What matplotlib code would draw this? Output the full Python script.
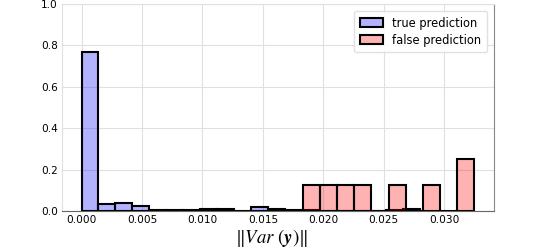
import numpy as np
import matplotlib
matplotlib.use("Agg")
import matplotlib.pyplot as plt

plt.rcParams["mathtext.fontset"] = "stix"

# histogram of ||Var(y)|| for true / false predictions (normalised counts)
true_range = (0.0, 0.028)
true_heights = [0.77, 0.033, 0.037, 0.025, 0.007, 0.007, 0.003, 0.012, 0.012, 0.0,
                0.018, 0.012, 0.003, 0.003, 0.0, 0.0, 0.0, 0.002, 0.005, 0.010]
false_range = (0.0183, 0.0325)
false_heights = [0.125, 0.125, 0.125, 0.125, 0.0, 0.125, 0.0, 0.125, 0.0, 0.25]
xticks = [0.000, 0.005, 0.010, 0.015, 0.020, 0.025, 0.030]
yticks = [0.0, 0.2, 0.4, 0.6, 0.8, 1.0]

fig = plt.figure(figsize=(5.34, 2.48), dpi=100)
ax = fig.add_axes([0.116, 0.149, 0.809, 0.835])

true_edges = np.linspace(true_range[0], true_range[1], len(true_heights) + 1)
false_edges = np.linspace(false_range[0], false_range[1], len(false_heights) + 1)

ax.hist(true_edges[:-1], bins=true_edges, weights=true_heights,
        facecolor=(0, 0, 1, 0.3), edgecolor="black", linewidth=1.5,
        label="true prediction", zorder=2)
ax.hist(false_edges[:-1], bins=false_edges, weights=false_heights,
        facecolor=(1, 0, 0, 0.3), edgecolor="black", linewidth=1.5,
        label="false prediction", zorder=2)

ax.set_ylim(0, 1.0)
ax.set_xticks(xticks)
ax.set_yticks(yticks)
ax.tick_params(labelsize=7.6, length=0, pad=3)
ax.grid(True, color="#e0e0e0", linewidth=0.8, zorder=0)
ax.set_axisbelow(True)
for side in ["top", "left"]:
    ax.spines[side].set_color("#e0e0e0")
ax.spines["right"].set_color("#888888")
ax.spines["bottom"].set_color("#666666")

ax.set_xlabel(r"$\|Var\ (\boldsymbol{y})\|$", fontsize=13.5)
ax.xaxis.set_label_coords(0.485, -0.075)
ax.legend(loc="upper right", fontsize=8.3, framealpha=0.9, edgecolor="#dddddd",
          handlelength=2.0, borderpad=0.5, labelspacing=0.35,
          bbox_to_anchor=(0.997, 0.995))

fig.savefig("out.png", dpi=100)
